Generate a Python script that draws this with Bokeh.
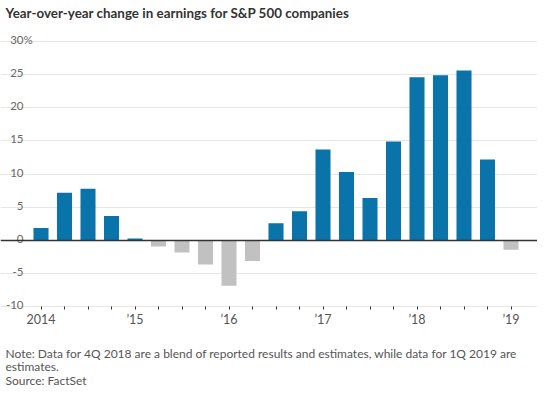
from bokeh.plotting import figure
from bokeh.models import FixedTicker, Span, Range1d, ColumnDataSource, Label
from bokeh.core.properties import value
from bokeh.embed import file_html
from bokeh.resources import INLINE

quarters = ["1Q14", "2Q14", "3Q14", "4Q14", "1Q15", "2Q15", "3Q15", "4Q15",
            "1Q16", "2Q16", "3Q16", "4Q16", "1Q17", "2Q17", "3Q17", "4Q17",
            "1Q18", "2Q18", "3Q18", "4Q18", "1Q19"]
changes = [1.9, 7.2, 7.8, 3.7, 0.3, -0.9, -1.8, -3.6, -6.8, -3.1, 2.6, 4.4,
           13.7, 10.3, 6.4, 14.9, 24.6, 24.9, 25.6, 12.2, -1.4]
year_ticks = [0, 4, 8, 12, 16, 20]
year_labels = ["2014", "\u201915", "\u201916", "\u201917", "\u201918", "\u201919"]
y_ticks = [-10, -5, 0, 5, 10, 15, 20, 25, 30]
y_labels = ["-10", "-5", "0", "5", "10", "15", "20", "25", "30"]
y_unit = "%"

title_text = "Year-over-year change in earnings for S&P 500 companies"
note_lines = ["Note: Data for 4Q 2018 are a blend of reported results and estimates, while data for 1Q 2019 are",
              "estimates.",
              "Source: FactSet"]

BLUE = "#0a73aa"
GRAY = "#c1c1c1"

xs = list(range(len(quarters)))
colors = [BLUE if v >= 0 else GRAY for v in changes]
src = ColumnDataSource(dict(x=xs, top=changes, color=colors, q=quarters))

# the plot frame covers the whole canvas; positions below are canvas pixels
W, H = 537, 389
px_per_x = 23.5
x0_px = 40.5          # canvas x of the first quarter
x_start = -x0_px / px_per_x
x_end = x_start + W / px_per_x
px_per_y = 6.64
zero_px = 240.0       # canvas y of the 0 line
y_top = zero_px / px_per_y
y_bottom = y_top - H / px_per_y


def px_x(px):
    return x_start + px / px_per_x


def px_y(px):
    return (zero_px - px) / px_per_y


p = figure(width=W, height=H, x_range=Range1d(x_start, x_end), y_range=Range1d(y_bottom, y_top),
           output_backend="svg", toolbar_location=None, y_axis_location=None,
           min_border=0, min_border_left=0, min_border_right=0, min_border_top=0, min_border_bottom=0)
p.outline_line_color = None
p.background_fill_color = "white"
p.border_fill_color = "white"

p.xgrid.visible = False
p.ygrid.ticker = FixedTicker(ticks=y_ticks)
p.ygrid.grid_line_color = "#e6e6e6"
p.ygrid.grid_line_width = 1

xa = p.xaxis[0]
xa.fixed_location = y_ticks[0]
xa.ticker = FixedTicker(ticks=xs)
xa.major_label_overrides = {i: (year_labels[year_ticks.index(i)] if i in year_ticks else "") for i in xs}
xa.major_tick_in = 0
xa.major_tick_out = 3
xa.major_tick_line_color = "#333333"
xa.axis_line_color = None
xa.major_label_text_font = "Lato"
xa.major_label_text_font_size = "12.5px"
xa.major_label_text_color = "#555555"
xa.major_label_standoff = 2

p.vbar(x="x", top="top", bottom=0, width=0.64, color="color", line_color=None, source=src)
p.add_layout(Span(location=0, dimension="width", line_color="#333333", line_width=1.5))

lab_x = px_x(23)
p.text(x=[lab_x] * len(y_ticks), y=y_ticks, text=y_labels,
       text_font=value("Lato"), text_font_size="11.5px", text_color="#666666",
       text_baseline="alphabetic", text_align="right", y_offset=-1.5)
p.text(x=[lab_x], y=[y_ticks[-1]], text=[y_unit],
       text_font=value("Lato"), text_font_size="11.5px", text_color="#666666",
       text_baseline="alphabetic", text_align="left", y_offset=-1.5)

p.add_layout(Label(x=px_x(5), y=px_y(12), text=title_text,
                   text_font="Lato", text_font_size="13.4px", text_font_style="bold",
                   text_color="#333333", text_baseline="alphabetic", text_align="left"))

note_baselines_px = [352.5, 366, 379.5]
for line, bpx in zip(note_lines, note_baselines_px):
    p.add_layout(Label(x=px_x(5), y=px_y(bpx), text=line,
                       text_font="Lato", text_font_size="12px", text_color="#555555",
                       text_baseline="alphabetic", text_align="left"))

open("out.html", "w").write(file_html(p, INLINE))
